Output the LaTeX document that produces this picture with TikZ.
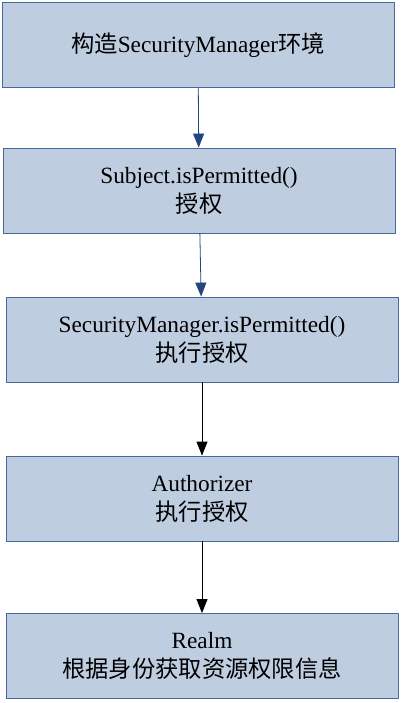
\documentclass[tikz,border=0pt]{standalone}
\usepackage{fontspec}
\setmainfont{Liberation Serif}
\newfontfamily\cjk{Noto Sans CJK SC}
\usetikzlibrary{arrows.meta}
\definecolor{boxfill}{RGB}{191,205,225}
\definecolor{boxline}{RGB}{70,105,160}
\definecolor{flowblue}{RGB}{35,70,130}
\tikzset{
  stepbox/.style={draw=boxline,fill=boxfill,line width=0.8pt,
    minimum width=392pt,minimum height=85pt,align=center,
    font=\fontsize{23.3}{29}\selectfont},
  flow/.style={-{Triangle[length=14pt,width=11pt]},line width=0.8pt}
}
\begin{document}
\begin{tikzpicture}[x=1pt,y=-1pt]
    \useasboundingbox (0,0) rectangle (402,703);
    \node[stepbox] (env) at (198,45) {{\cjk 构造}SecurityManager{\cjk 环境}};
    \node[stepbox] (subject) at (199,190.5) {Subject.isPermitted()\\{\cjk 授权}};
    \node[stepbox] (manager) at (202,339.5) {SecurityManager.isPermitted()\\{\cjk 执行授权}};
    \node[stepbox] (authorizer) at (202,498.5) {Authorizer\\{\cjk 执行授权}};
    \node[stepbox] (realm) at (202,656) {Realm\\{\cjk 根据身份获取资源权限信息}};
    \draw[flow,flowblue] (env) -- (subject);
    \draw[flow,flowblue] (subject) -- (manager);
    \draw[flow,black] (manager) -- (authorizer);
    \draw[flow,black] (authorizer) -- (realm);
\end{tikzpicture}
\end{document}
